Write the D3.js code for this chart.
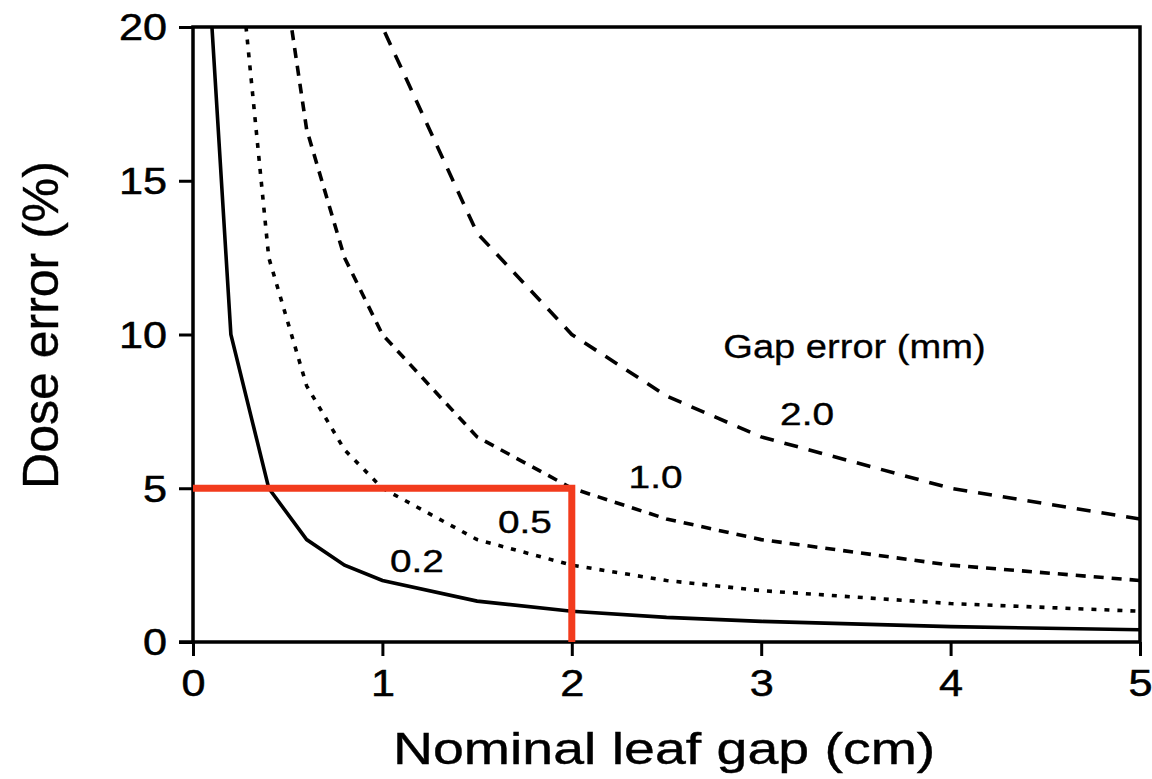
<!DOCTYPE html>
<html><head><meta charset="utf-8">
<script src="https://cdn.jsdelivr.net/npm/d3@7"></script>
<style>body{margin:0;background:#fff}svg{display:block}text{font-family:"Liberation Sans",Arial,sans-serif;fill:#000}</style>
</head><body>
<svg id="c" width="1152" height="779"></svg>
<script>
// Data
const gapCm = [0.1, 0.2, 0.4, 0.6, 0.8, 1.0, 1.5, 2.0, 2.5, 3.0, 4.0, 5.0];
const err02 = [20, 10, 5, 3.33, 2.5, 2, 1.33, 1, 0.8, 0.67, 0.5, 0.4];
const err05 = [50, 25, 12.5, 8.33, 6.25, 5, 3.33, 2.5, 2, 1.67, 1.25, 1];
const err10 = [100, 50, 25, 16.67, 12.5, 10, 6.67, 5, 4, 3.33, 2.5, 2];
const err20 = [200, 100, 50, 33.3, 25, 20, 13.3, 10, 8, 6.67, 5, 4];
const seriesNames = ["0.2", "0.5", "1.0", "2.0"];
const xTicks = [0, 1, 2, 3, 4, 5];
const yTicks = [0, 5, 10, 15, 20];
const markerX = [0, 2, 2];
const markerY = [5, 5, 0];

const svg = d3.select("#c");
const L = 193, R = 1140, T = 27, B = 642;
const x = d3.scaleLinear().domain([0, 5]).range([L, R]);
const y = d3.scaleLinear().domain([0, 20]).range([B, T]);

svg.append("defs").append("clipPath").attr("id", "clip")
  .append("rect").attr("x", L).attr("y", T).attr("width", R - L).attr("height", B - T);

function stretch(sel, f) {
  sel.each(function () {
    const w = this.getComputedTextLength();
    d3.select(this).attr("textLength", w * f).attr("lengthAdjust", "spacingAndGlyphs");
  });
}

// axes
const xAxis = svg.append("g").attr("transform", `translate(0,${B})`)
  .call(d3.axisBottom(x).tickValues(xTicks).tickFormat(d3.format("d")).tickSize(14).tickPadding(8));
const yAxis = svg.append("g").attr("transform", `translate(${L},0)`)
  .call(d3.axisLeft(y).tickValues(yTicks).tickFormat(d3.format("d")).tickSize(14).tickPadding(12));
[xAxis, yAxis].forEach(a => {
  a.select(".domain").remove();
  a.selectAll(".tick line").attr("stroke", "#000").attr("stroke-width", 3);
  a.selectAll(".tick text").style("font-size", "36px").attr("fill", "#000")
    .attr("stroke", "#000").attr("stroke-width", 0.5);
});
xAxis.selectAll(".tick text").attr("dy", "0.88em");
yAxis.selectAll(".tick text").attr("dy", "0.36em");
stretch(xAxis.selectAll(".tick text"), 1.2);
stretch(yAxis.selectAll(".tick text"), 1.2);

// frame
svg.append("path").attr("fill", "none").attr("stroke", "#000").attr("stroke-width", 3.5)
  .attr("d", `M${L},${B}V${T}H${R}V${B}H${L - 14}`);

// curves
const line = d3.line().x((d, i) => x(gapCm[i])).y(d => y(d));
const series = [err02, err05, err10, err20];
const dashes = [null, "5,8", "10,8", "14,11"];
const g = svg.append("g").attr("clip-path", "url(#clip)");
series.forEach((s, k) => {
  g.append("path").datum(s).attr("d", line).attr("fill", "none")
    .attr("stroke", "#000").attr("stroke-width", 3.6)
    .attr("stroke-dasharray", dashes[k]);
});

// red marker lines
svg.append("path")
  .attr("d", d3.line().x((d, i) => x(d)).y((d, i) => y(markerY[i]))(markerX))
  .attr("fill", "none").attr("stroke", "#f23b1d").attr("stroke-width", 7);

// curve labels
const labelPos = [[1.04, 2.28], [1.61, 3.55], [2.3, 5.0], [3.1, 7.06]];
seriesNames.forEach((n, k) => {
  svg.append("text").attr("class", "lab").attr("x", x(labelPos[k][0]))
    .attr("y", y(labelPos[k][1])).text(n).style("font-size", "31px")
    .attr("stroke", "#000").attr("stroke-width", 0.4);
});
stretch(svg.selectAll("text.lab"), 1.25);

const leg = svg.append("text").attr("x", x(2.8)).attr("y", y(9.24)).text("Gap error (mm)")
  .style("font-size", "34px").attr("stroke", "#000").attr("stroke-width", 0.3);
stretch(leg, 1.12);

// axis titles
const xt = svg.append("text").attr("x", 393).attr("y", 764).text("Nominal leaf gap (cm)")
  .style("font-size", "44px").attr("stroke", "#000").attr("stroke-width", 0.4);
stretch(xt, 1.26);
svg.append("text").attr("transform", "translate(58,325) rotate(-90)").attr("text-anchor", "middle")
  .text("Dose error (%)").style("font-size", "50px").attr("stroke", "#000").attr("stroke-width", 0.4);
</script>
</body></html>
